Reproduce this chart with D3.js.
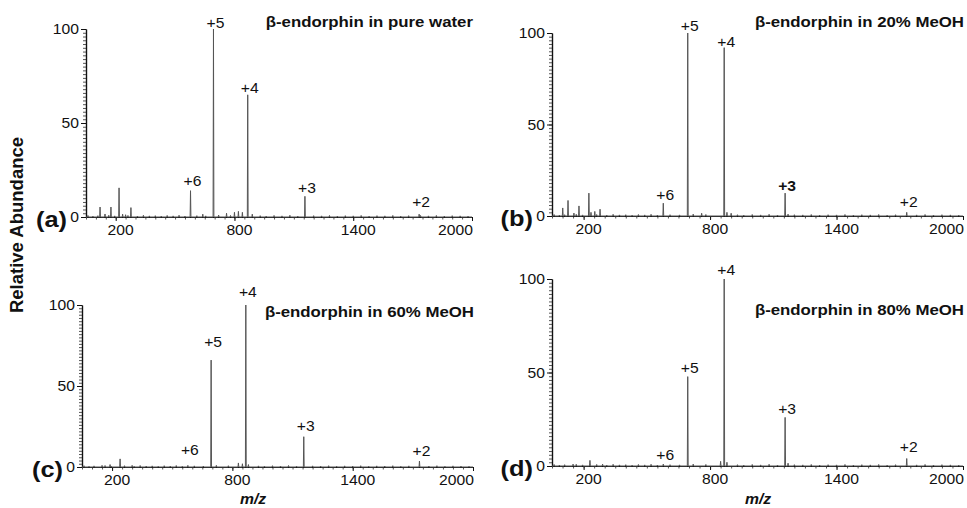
<!DOCTYPE html>
<html lang="en">
<head>
<meta charset="UTF-8">
<title>beta-endorphin ESI spectra</title>
<script src="https://cdn.jsdelivr.net/npm/d3@7"></script>
<style>
    body{margin:0;background:#fff;}
    text{font-family:"Liberation Sans", Arial, Helvetica, sans-serif; fill:#111;}
    .axis path, .axis line{stroke:#111;}
    .minor line{stroke:#555;}
</style>
</head>
<body>
<svg id="main" width="967" height="508"></svg>
<script>
    // ---- data ----
    const mzRange = [50, 2000];
    const xTicks = [200, 800, 1400, 2000];
    const yTicks = [0, 50, 100];
    const tags = ['(a)', '(b)', '(c)', '(d)'];
    const titles = ['β-endorphin in pure water', 'β-endorphin in 20% MeOH',
                    'β-endorphin in 60% MeOH', 'β-endorphin in 80% MeOH'];

    // charge states of beta-endorphin and their m/z
    const ionNames = ['+6', '+5', '+4', '+3', '+2'];
    const ionMz = [578, 694, 867, 1156, 1733];

    // relative abundance of each ion, per panel
    const abundA = [14, 100, 65, 11, 1.5];
    const abundB = [7, 100, 92, 12.5, 2];
    const abundC = [1, 66, 100, 18.7, 3.7];
    const abundD = [1, 47.8, 100, 26, 4];

    // abundance level where each charge label sits
    const labelA = [16.5, 100.5, 66, 12.8, 5.3];
    const labelB = [8.7, 101, 92.3, 13.7, 5];
    const labelC = [7.4, 74, 105, 22, 6.8];
    const labelD = [3.2, 50, 102, 28, 7.5];

    // smaller peaks [m/z, abundance]
    const minorA = [[121,5.3],[146,1.6],[176,5.3],[217,15.5],[235,1.5],[250,1.2],[277,5],
                    [640,1.5],[760,2],[800,2.5],[820,3],[840,2.5],[890,1.5],[1740,0.8]];
    const minorB = [[101,4.4],[126,8.5],[154,1.6],[178,5.5],[225,12.5],[235,2],[253,2.5],[278,3.7],
                    [760,1.5],[880,2],[900,1.5],[1170,1]];
    const minorC = [[150,1],[190,1.5],[240,5],[300,1],[830,2.5],[850,2],[880,1.5]];
    const minorD = [[150,1],[230,3],[290,1],[850,2.5],[880,2],[1170,1.5]];

    // low baseline noise, common to all runs
    const noise = [[60,0.8],[85,0.5],[110,0.7],[165,0.9],[195,0.6],[262,0.8],[310,0.5],[340,0.9],
                   [370,0.6],[400,0.7],[430,0.5],[460,0.8],[490,0.6],[520,0.9],[550,0.5],[610,0.7],
                   [655,0.6],[720,1],[780,0.8],[930,0.7],[960,0.5],[1000,0.8],[1040,0.6],[1080,0.9],
                   [1120,0.5],[1200,0.7],[1240,0.6],[1280,0.8],[1320,0.5],[1360,0.7],[1400,0.6],
                   [1440,0.8],[1480,0.5],[1520,0.7],[1560,0.6],[1600,0.8],[1640,0.5],[1680,0.7],
                   [1780,0.6],[1820,0.8],[1860,0.5],[1900,0.7],[1940,0.6],[1980,0.5]];

    const boldIon = {1: '+3'};   // panel (b) prints +3 in bold

    // ---- layout ----
    const layout = [
        {x0: 86,  x1: 472, y0: 217, y1: 29,  titleY: 27},
        {x0: 552, x1: 963, y0: 216, y1: 33,  titleY: 27},
        {x0: 82,  x1: 473, y0: 467, y1: 305, titleY: 317, xlab: 253},
        {x0: 552, x1: 963, y0: 466, y1: 279, titleY: 315, xlab: 758}
    ];
    const SX = 1.12;  // figure text is a bit wide

    let svg = d3.select('svg#main');
    let panels = [
        {abund: abundA, labels: labelA, minor: minorA},
        {abund: abundB, labels: labelB, minor: minorB},
        {abund: abundC, labels: labelC, minor: minorC},
        {abund: abundD, labels: labelD, minor: minorD}
    ];

    function addText(sel, x, y, str, o) {
        return sel.append('text')
            .attr('transform', 'translate(' + x + ',' + y + ') scale(' + (o.sx || SX) + ',1)' + (o.rotate ? ' rotate(' + o.rotate + ')' : ''))
            .attr('text-anchor', o.anchor || 'start')
            .style('font-size', o.size + 'px')
            .style('font-weight', o.bold ? 'bold' : 'normal')
            .style('font-style', o.italic ? 'italic' : 'normal')
            .text(str);
    }

    // turn a stick list into a spectrum trace
    function profile(sticks) {
        let pts = [[mzRange[0], 0]];
        sticks.slice().sort(function(a, b){return a[0] - b[0];}).forEach(function(s){
            pts.push([s[0] - 2, 0], [s[0], s[1]], [s[0] + 2, 0]);
        });
        pts.push([mzRange[1], 0]);
        return pts;
    }

    panels.forEach(function(p, i){
        let L = layout[i];
        let x = d3.scaleLinear().domain(mzRange).range([L.x0, L.x1]);
        let y = d3.scaleLinear().domain([0, 100]).range([L.y0, L.y1]);
        let g = svg.append('g');

        // axes
        g.append('g').attr('class', 'axis minor')
            .attr('transform', 'translate(' + L.x0 + ',0)')
            .call(d3.axisLeft(y).tickValues(d3.range(0, 101, 2)).tickSize(3).tickSizeOuter(0).tickFormat(''));
        g.append('g').attr('class', 'axis')
            .attr('transform', 'translate(' + L.x0 + ',0)')
            .call(d3.axisLeft(y).tickValues(yTicks).tickSize(5).tickSizeOuter(0).tickFormat(''));
        g.append('g').attr('class', 'axis minor')
            .attr('transform', 'translate(0,' + L.y0 + ')')
            .call(d3.axisBottom(x).tickValues(d3.range(50, 2001, 50)).tickSize(2.5).tickSizeOuter(0).tickFormat(''));
        g.append('g').attr('class', 'axis')
            .attr('transform', 'translate(0,' + L.y0 + ')')
            .call(d3.axisBottom(x).tickValues(xTicks).tickSize(4).tickSizeOuter(0).tickFormat(''));
        g.selectAll('.axis path').style('stroke-width', 1.2);

        // tick labels
        yTicks.forEach(function(v){
            addText(g, L.x0 - 7, y(v) + 5, v, {size: 14, anchor: 'end'});
        });
        xTicks.forEach(function(v, k){
            let last = k === xTicks.length - 1;
            addText(g, last ? L.x1 + 1 : x(v) + 5, L.y0 + 18, v, {size: 14, anchor: last ? 'end' : 'middle'});
        });

        // spectrum
        let sticks = p.minor.concat(noise, ionMz.map(function(m, k){return [m, p.abund[k]];}));
        let line = d3.line().x(function(d){return x(d[0]);}).y(function(d){return y(d[1]);});
        g.append('path')
            .attr('d', line(profile(sticks)))
            .style('fill', 'none')
            .style('stroke', '#555')
            .style('stroke-width', 1);

        // charge state labels
        ionNames.forEach(function(n, k){
            addText(g, x(ionMz[k]) + 2, y(p.labels[k]), n, {size: 14, anchor: 'middle', bold: boldIon[i] === n});
        });

        addText(g, L.x1 + 1, L.titleY, titles[i], {size: 14.5, anchor: 'end', bold: true, sx: 1.16});
        addText(g, L.x0 - 19, L.y0 + 10, tags[i], {size: 21.5, anchor: 'end', bold: true, sx: 1.18});
        if (L.xlab) {
            addText(g, L.xlab, 504, 'm/z', {size: 15, anchor: 'middle', bold: true, italic: true, sx: 1.05});
        }
    });

    addText(svg, 23, 225, 'Relative Abundance', {size: 18.5, anchor: 'middle', bold: true, sx: 1, rotate: -90});
</script>
</body>
</html>
